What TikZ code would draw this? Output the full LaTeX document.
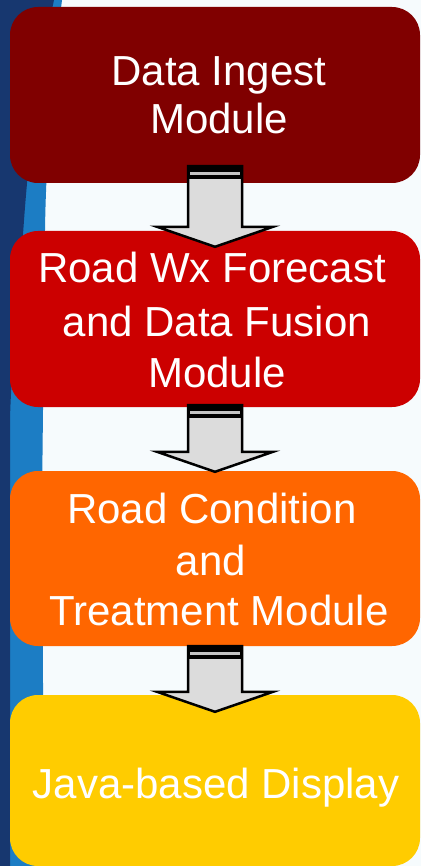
\documentclass[tikz,border=0pt]{standalone}
\usepackage{fontspec}
\setmainfont{Liberation Sans}
\usetikzlibrary{calc}
\definecolor{bgc}{HTML}{F6FBFD}
\definecolor{navy}{HTML}{17376F}
\definecolor{midblue}{HTML}{1C7DC4}
\definecolor{boxA}{HTML}{800000}
\definecolor{boxB}{HTML}{CC0000}
\definecolor{boxC}{HTML}{FF6600}
\definecolor{boxD}{HTML}{FFCC00}
\definecolor{arrowgray}{HTML}{DCDCDC}
\definecolor{bandline}{HTML}{C4C4C4}
\newcommand\flowarrow[2]{%
  \draw[draw=black, line width=2.5pt, fill=arrowgray, line join=miter]
    let \p1=(#1), \p2=(#2) in
    ({\x1-27pt},\y1) -- ({\x1-27pt},{\y2+20pt}) -- ({\x1-58pt},{\y2+20pt})
    -- (\x2,\y2) -- ({\x1+58pt},{\y2+20pt}) -- ({\x1+27pt},{\y2+20pt})
    -- ({\x1+27pt},\y1) -- cycle;
  \fill[black] let \p1=(#1) in
    ({\x1-28.25pt},{\y1+1.25pt}) rectangle ({\x1+28.25pt},{\y1-13pt});
  \fill[bandline] let \p1=(#1) in
    ({\x1-25pt},{\y1-6pt}) rectangle ({\x1+25pt},{\y1-8.5pt});
}
\begin{document}
\begin{tikzpicture}[x=1pt,y=-1pt,
  box/.style={rectangle, rounded corners=28pt, minimum width=410pt, inner sep=0pt, draw=none},
  lbl/.style={text=white, font=\fontsize{42}{50}\selectfont, anchor=base, inner sep=0pt}]
\useasboundingbox (0,0) rectangle (421,866);
\fill[bgc] (0,0) rectangle (421,866);
% left blue strip
\fill[midblue] (0,0) -- (62,0) .. controls (52,80) and (46,160) .. (45,230)
  -- (42,500) -- (44,866) -- (0,866) -- cycle;
\fill[navy] (0,0) -- (54,0) .. controls (35,90) and (27,170) .. (22,250)
  .. controls (18,320) and (11,370) .. (10,420) -- (10,866) -- (0,866) -- cycle;
% boxes
\node[box, fill=boxA, minimum height=176pt] (b1) at (215,95) {};
\node[box, fill=boxB, minimum height=176pt] (b2) at (215,319) {};
\node[box, fill=boxC, minimum height=175pt] (b3) at (215,558.5) {};
\node[box, fill=boxD, minimum height=171pt] (b4) at (215,780.5) {};
% texts
\node[lbl] (t1a) at (219,86) {Data Ingest};
\node[lbl] (t1b) at (219,134) {Module};
\node[lbl] (t2a) at (212,283) {Road Wx Forecast};
\node[lbl] (t2b) at (217,336) {and Data Fusion};
\node[lbl] (t2c) at (217,387) {Module};
\node[lbl] (t3a) at (212,523) {Road Condition};
\node[lbl] (t3b) at (211,575) {and};
\node[lbl] (t3c) at (219,625) {Treatment Module};
\node[lbl] (t4a) at (216,798) {Java-based Display};
% arrows
\coordinate (a1s) at ($(b1.south)+(0,-17)$);
\coordinate (a1e) at ($(b2.north)+(0,16)$);
\coordinate (a2s) at ($(b2.south)+(0,-2)$);
\coordinate (a2e) at ($(b3.north)+(0,1)$);
\coordinate (a3s) at ($(b3.south)+(0,0)$);
\coordinate (a3e) at ($(b4.north)+(0,17)$);
\flowarrow{a1s}{a1e}
\flowarrow{a2s}{a2e}
\flowarrow{a3s}{a3e}
\end{tikzpicture}
\end{document}
